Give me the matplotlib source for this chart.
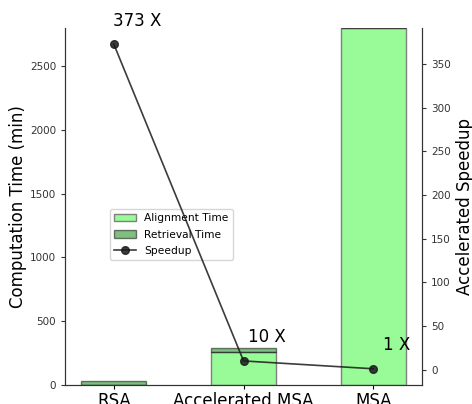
import matplotlib
matplotlib.use("Agg")
import matplotlib.pyplot as plt
import numpy as np

methods = ["RSA", "Accelerated MSA", "MSA"]
alignment_time = [0, 258, 2800]
retrieval_time = [30, 30, 0]
speedup = [373, 10, 1]
speedup_labels = ["373 X", "10 X", "1 X"]

fig, ax1 = plt.subplots(figsize=(4.72, 4.04), dpi=100)
fig.subplots_adjust(left=0.138, right=0.894, top=0.931, bottom=0.047)

x = np.arange(len(methods))
width = 0.5

ax1.bar(x, alignment_time, width, color="palegreen",
        edgecolor="gray", linewidth=1, label="Alignment Time")
ax1.bar(x, retrieval_time, width, bottom=alignment_time, color="green",
        alpha=0.5, edgecolor="black", linewidth=1, label="Retrieval Time")
ax1.set_ylim(0, 2800)
ax1.set_ylabel("Computation Time (min)", fontsize=12, labelpad=2)
ax1.set_xticks(x)
ax1.set_xticklabels(methods, fontsize=12)
ax1.tick_params(axis="y", labelsize=7.5, colors="#333333", length=3)
ax1.tick_params(axis="x", length=3, pad=2)

ax2 = ax1.twinx()
ax2.plot(x, speedup, color="#1a1a1a", marker="o", markersize=5.5, linewidth=1.2,
         alpha=0.85, label="Speedup")
for xi, v, lab in zip(x, speedup, speedup_labels):
    ax2.text(xi + 0.18, v + 27, lab, ha="center", va="center", fontsize=12)
ax2.set_ylabel("Accelerated Speedup", fontsize=12)
ax2.tick_params(axis="y", labelsize=7.5, colors="#333333", length=3)

for ax in (ax1, ax2):
    ax.spines["top"].set_visible(False)
    for s in ("left", "right", "bottom"):
        ax.spines[s].set_color("#333333")

h1, l1 = ax1.get_legend_handles_labels()
h2, l2 = ax2.get_legend_handles_labels()
ax1.legend(h1 + h2, l1 + l2, loc="upper left", bbox_to_anchor=(0.126, 0.493),
           borderaxespad=0, fontsize=7.7, labelspacing=0.6)

fig.savefig("out.png", dpi=100)
